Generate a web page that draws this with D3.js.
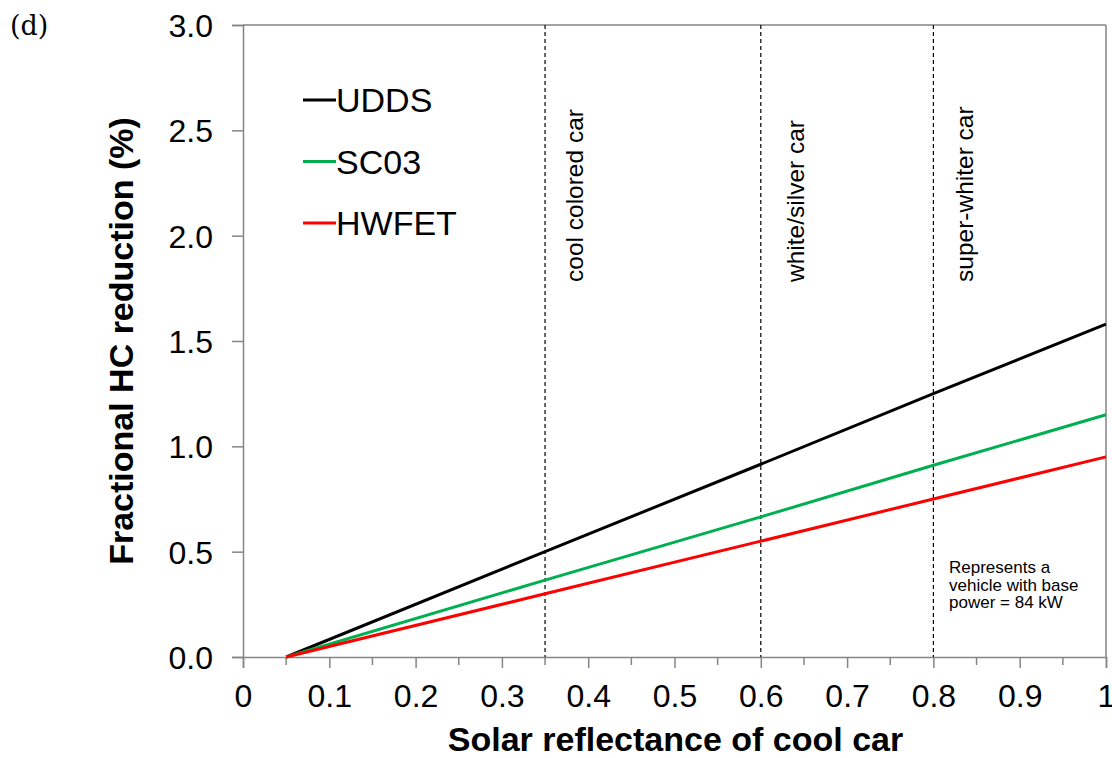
<!DOCTYPE html>
<html>
<head>
<meta charset="utf-8">
<script src="https://cdn.jsdelivr.net/npm/d3@7"></script>
<style>
  body { margin: 0; background: #fff; }
  text { font-family: "Liberation Sans", Arial, sans-serif; }
</style>
</head>
<body>
<div id="chart"></div>
<script>
// Chart data
const reflectance = [0.05, 0.35, 0.6, 0.8, 1.0];
const udds = [0, 0.50, 0.915, 1.25, 1.58];
const sc03 = [0, 0.365, 0.665, 0.91, 1.15];
const hwfet = [0, 0.30, 0.55, 0.75, 0.95];
const seriesNames = ["UDDS", "SC03", "HWFET"];
const seriesColors = ["#000000", "#00b050", "#ff0000"];
const markers = [0.35, 0.6, 0.8];
const markerLabels = ["cool colored car", "white/silver car", "super-whiter car"];
const xTicks = [0, 0.1, 0.2, 0.3, 0.4, 0.5, 0.6, 0.7, 0.8, 0.9, 1];
const yTicks = [0, 0.5, 1.0, 1.5, 2.0, 2.5, 3.0];

const width = 1112, height = 758;
const margin = { left: 243, right: 6, top: 25, bottom: 101 };

const svg = d3.select('#chart').append('svg')
  .attr('width', width)
  .attr('height', height);

const x = d3.scaleLinear().domain([0, 1]).range([margin.left, width - margin.right]);
const y = d3.scaleLinear().domain([0, 3]).range([height - margin.bottom, margin.top]);

const axisColor = '#858585';

// frame (top and right)
svg.append('line')
  .attr('x1', x(0)).attr('x2', x(1)).attr('y1', y(3)).attr('y2', y(3))
  .attr('stroke', axisColor).attr('stroke-width', 1.5);
svg.append('line')
  .attr('x1', x(1)).attr('x2', x(1)).attr('y1', y(0)).attr('y2', y(3))
  .attr('stroke', axisColor).attr('stroke-width', 1.5);

// x axis
const xAxis = svg.append('g')
  .attr('transform', `translate(0,${y(0)})`)
  .call(d3.axisBottom(x).tickValues(xTicks).tickSize(11).tickPadding(16)
    .tickFormat(d => d === 0 ? '0' : d === 1 ? '1' : d3.format('.1f')(d)));
// minor ticks
svg.append('g').selectAll('line')
  .data(xTicks.slice(0, -1).map(d => d + 0.05))
  .join('line')
  .attr('x1', d => x(d)).attr('x2', d => x(d))
  .attr('y1', y(0)).attr('y2', y(0) + 8)
  .attr('stroke', axisColor).attr('stroke-width', 1.5);

// y axis
const yAxis = svg.append('g')
  .attr('transform', `translate(${x(0)},0)`)
  .call(d3.axisLeft(y).tickValues(yTicks).tickSize(11).tickPadding(19)
    .tickFormat(d3.format('.1f')));

[xAxis, yAxis].forEach(g => {
  g.select('.domain').attr('stroke', axisColor).attr('stroke-width', 1.5);
  g.selectAll('.tick line').attr('stroke', axisColor).attr('stroke-width', 1.5);
  g.selectAll('.tick text')
    .attr('fill', '#000')
    .style('font-size', '32px')
    .style('font-family', '"Liberation Sans", Arial, sans-serif');
});
yAxis.selectAll('.tick text').attr('dy', '0.36em');

// dashed reference lines
svg.append('g').selectAll('line')
  .data(markers)
  .join('line')
  .attr('x1', d => x(d)).attr('x2', d => x(d))
  .attr('y1', y(3)).attr('y2', y(0))
  .attr('stroke', '#000').attr('stroke-width', 1.2)
  .attr('stroke-dasharray', '4,3');

const labelOffset = [38, 43, 40];
svg.append('g').selectAll('text')
  .data(markers)
  .join('text')
  .attr('transform', (d, i) => `translate(${x(d) + labelOffset[i]},282) rotate(-90)`)
  .attr('text-anchor', 'start')
  .style('font-size', '24.5px')
  .text((d, i) => markerLabels[i]);

// series lines
const allSeries = [udds, sc03, hwfet];
const line = d3.line()
  .x((d, i) => x(reflectance[i]))
  .y(d => y(d));

svg.append('g').selectAll('path')
  .data(allSeries)
  .join('path')
  .attr('d', d => line(d))
  .attr('fill', 'none')
  .attr('stroke', (d, i) => seriesColors[i])
  .attr('stroke-width', 3);

// legend
const legend = svg.append('g').selectAll('g')
  .data(seriesNames)
  .join('g')
  .attr('transform', (d, i) => `translate(303,${100 + i * 61.5})`);
legend.append('line')
  .attr('x1', 0).attr('x2', 33)
  .attr('stroke', (d, i) => seriesColors[i])
  .attr('stroke-width', 3);
legend.append('text')
  .attr('x', 33).attr('y', 12)
  .style('font-size', '34px')
  .text(d => d);

// annotation
const note = ["Represents a", "vehicle with base", "power = 84 kW"];
svg.append('g').selectAll('text')
  .data(note)
  .join('text')
  .attr('x', 949)
  .attr('y', (d, i) => 573 + i * 17.5)
  .style('font-size', '17px')
  .text(d => d);

// axis titles
svg.append('text')
  .attr('x', (x(0) + x(1)) / 2 + 1).attr('y', 751)
  .attr('text-anchor', 'middle')
  .style('font-size', '34px').style('font-weight', 'bold')
  .text('Solar reflectance of cool car');

svg.append('text')
  .attr('transform', `translate(133,${(y(0) + y(3)) / 2}) rotate(-90)`)
  .attr('text-anchor', 'middle')
  .style('font-size', '34px').style('font-weight', 'bold')
  .text('Fractional HC reduction (%)');

// panel label
svg.append('text')
  .attr('x', 10).attr('y', 35)
  .style('font-family', '"DejaVu Serif", "Liberation Serif", serif')
  .style('font-size', '27px')
  .text('(d)');
</script>
</body>
</html>
